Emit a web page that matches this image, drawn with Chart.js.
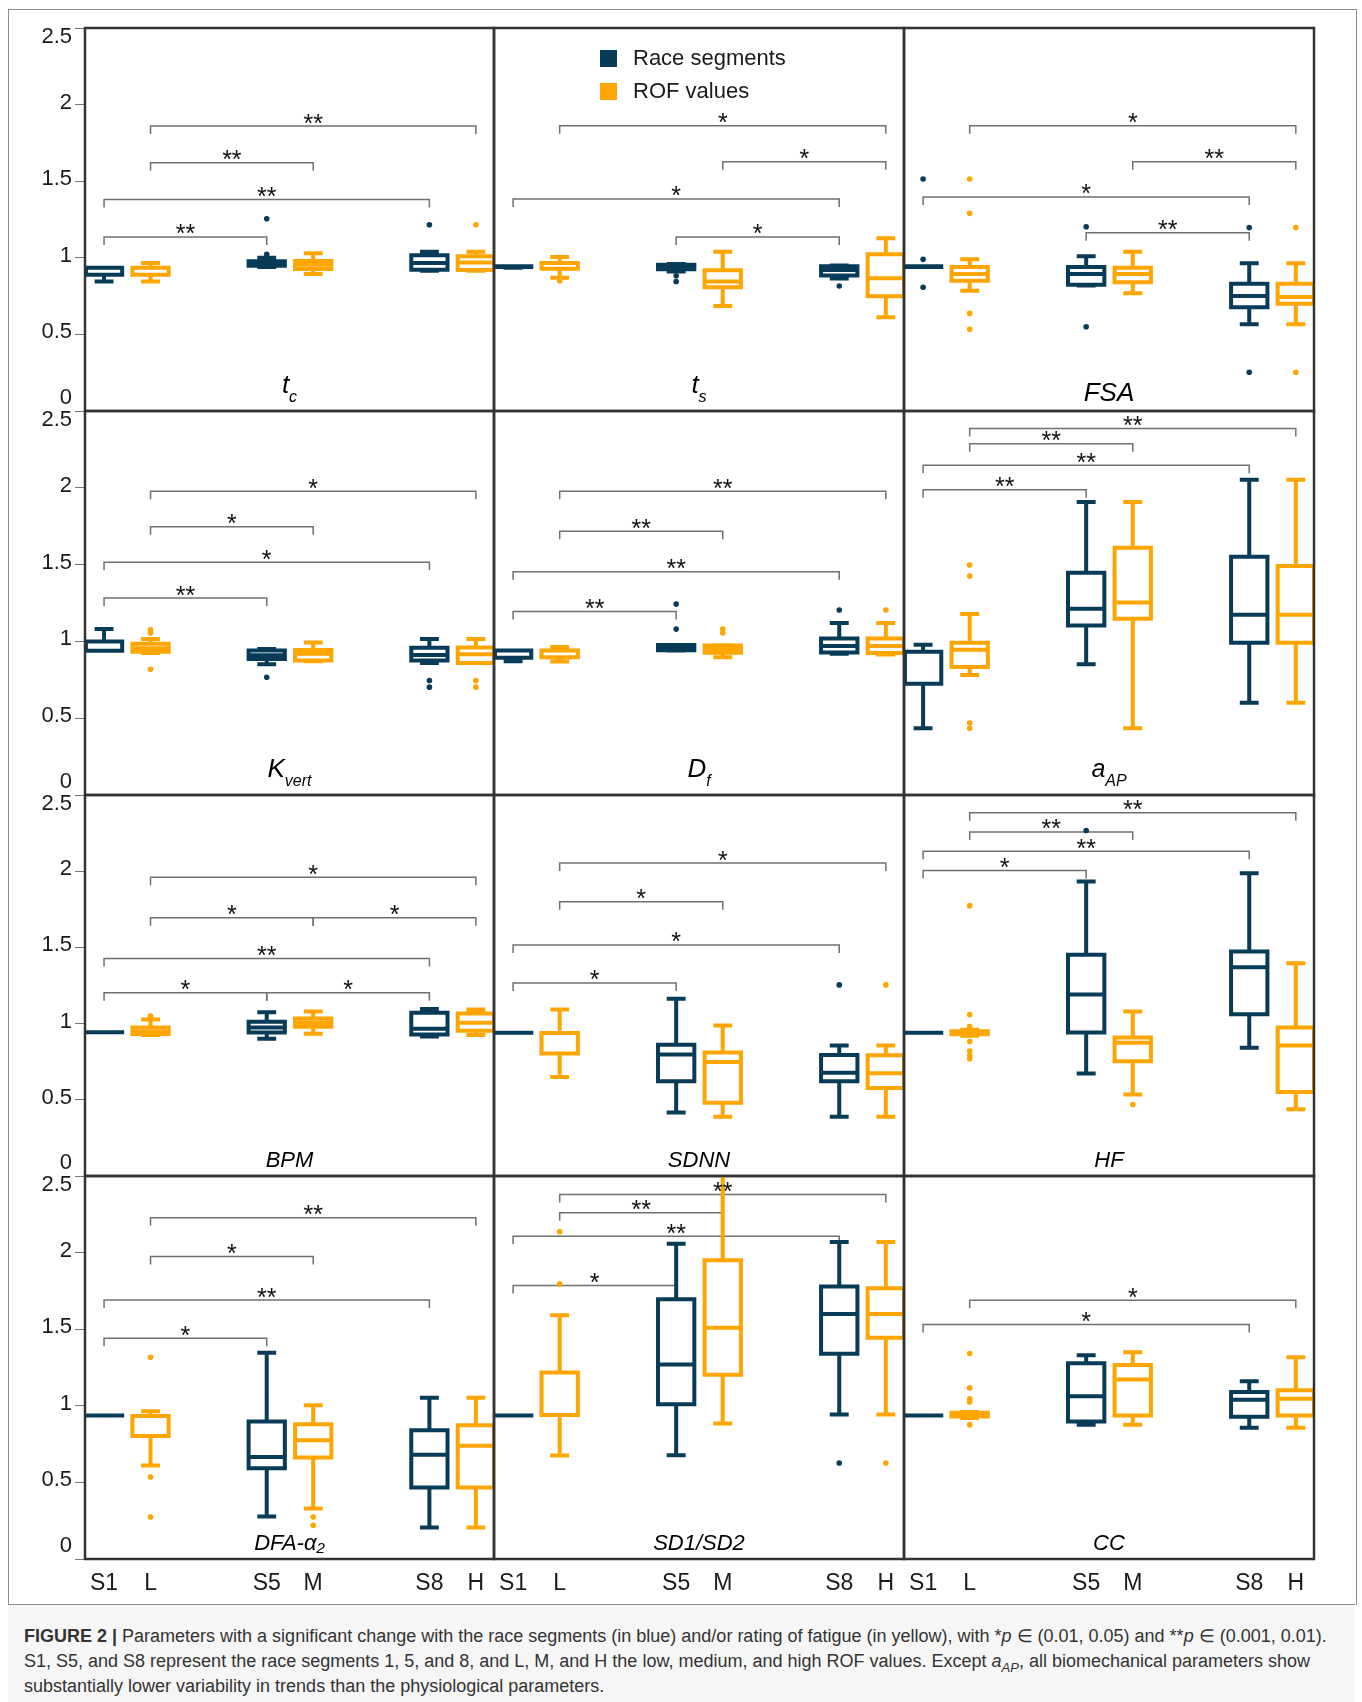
<!DOCTYPE html>
<html>
<head>
<meta charset="utf-8">
<script src="https://cdn.jsdelivr.net/npm/chart.js@4.4.0/dist/chart.umd.min.js"></script>
<style>
  body { margin: 0; background: #fff; font-family: 'Liberation Sans', Arial, sans-serif; }
  #page { position: relative; width: 1362px; height: 1702px; overflow: hidden; background: #fff; }
  #frame { position: absolute; left: 8px; top: 9px; width: 1347px; height: 1595px; border: 1px solid #8c8c8c; border-bottom: none; }
  #caption { position: absolute; left: 8px; top: 1604px; width: 1331px; height: 98px; background: #f6f6f6;
    border-top: 1px solid #8c8c8c; padding: 19px 0 0 16px; font-size: 18px; line-height: 25px; color: #333; white-space: nowrap; }
  #caption sub { font-size: 13px; line-height: 0; }
  canvas { position: absolute; }
</style>
</head>
<body>
<div id="page">
  <div id="frame"></div>
  <div id="caption"><b>FIGURE 2 |</b> Parameters with a significant change with the race segments (in blue) and/or rating of fatigue (in yellow), with *<i>p</i> ∈ (0.01, 0.05) and **<i>p</i> ∈ (0.001, 0.01).<br>S1, S5, and S8 represent the race segments 1, 5, and 8, and L, M, and H the low, medium, and high ROF values. Except <i>a<sub>AP</sub></i>, all biomechanical parameters show<br>substantially lower variability in trends than the physiological parameters.</div>
</div>
<script>
// categories along the x axis (race segments and ROF levels interleaved)
const catNames = ['S1', 'L', 'S5', 'M', 'S8', 'H'];
const catPos = [0, 1, 3.5, 4.5, 7, 8];
const raceCats = ['S1', 'S5', 'S8'];
const rofCats = ['L', 'M', 'H'];
const yTicks = [0, 0.5, 1, 1.5, 2, 2.5];

// box stats: [min, q1, median, q3, max] per category; outliers listed separately
// significance brackets: [from, to, bracket level, stars]
const tcRace = [[0.845, 0.89, 0.89, 0.935, 0.935], [0.94, 0.948, 0.96, 0.977, 1.0], [0.916, 0.922, 0.966, 1.016, 1.04]];
const tcRaceOut = [[], [1.023, 1.255], [1.216]];
const tcRof = [[0.845, 0.89, 0.89, 0.935, 0.966], [0.894, 0.927, 0.955, 0.979, 1.03], [0.915, 0.92, 0.97, 1.01, 1.04]];
const tcRofOut = [[], [], [1.216]];
const tcSig = [['L', 'H', 1.86, '**'], ['L', 'M', 1.62, '**'], ['S1', 'S8', 1.38, '**'], ['S1', 'S5', 1.136, '**']];

const tsRace = [[0.935, 0.94, 0.94, 0.945, 0.945], [0.91, 0.925, 0.935, 0.955, 0.96], [0.865, 0.885, 0.92, 0.945, 0.95]];
const tsRaceOut = [[], [0.883, 0.845], [0.816]];
const tsRof = [[0.87, 0.929, 0.929, 0.966, 1.005], [0.685, 0.807, 0.846, 0.918, 1.04], [0.612, 0.749, 0.866, 1.023, 1.127]];
const tsRofOut = [[0.85], [], []];
const tsSig = [['L', 'H', 1.862, '*'], ['M', 'H', 1.627, '*'], ['S1', 'S8', 1.384, '*'], ['S5', 'S8', 1.136, '*']];

const fsaRace = [[0.94, 0.94, 0.94, 0.945, 0.945], [0.82, 0.824, 0.894, 0.94, 1.01], [0.566, 0.677, 0.75, 0.831, 0.964]];
const fsaRaceOut = [[0.99, 0.807, 1.514], [1.203, 0.55], [1.197, 0.253]];
const fsaRof = [[0.785, 0.85, 0.894, 0.94, 0.99], [0.768, 0.84, 0.894, 0.935, 1.04], [0.566, 0.70, 0.744, 0.831, 0.964]];
const fsaRofOut = [[1.514, 1.29, 0.637, 0.533], [], [1.197, 0.253]];
const fsaSig = [['L', 'H', 1.862, '*'], ['M', 'H', 1.627, '**'], ['S1', 'S8', 1.397, '*'], ['S5', 'S8', 1.164, '**']];

const kvRace = [[0.939, 0.939, 0.939, 1.0, 1.08], [0.852, 0.885, 0.91, 0.941, 0.95], [0.86, 0.875, 0.912, 0.958, 1.015]];
const kvRaceOut = [[], [0.767], [0.745, 0.702]];
const kvRof = [[0.925, 0.932, 0.955, 0.984, 1.015], [0.87, 0.875, 0.92, 0.944, 0.993], [0.86, 0.86, 0.917, 0.96, 1.015]];
const kvRofOut = [[1.075, 1.055, 0.819], [], [0.745, 0.702]];
const kvSig = [['L', 'H', 1.977, '*'], ['L', 'M', 1.747, '*'], ['S1', 'S8', 1.515, '*'], ['S1', 'S5', 1.282, '**']];

const dfRace = [[0.87, 0.893, 0.893, 0.941, 0.941], [0.94, 0.943, 0.955, 0.976, 0.976], [0.92, 0.928, 0.97, 1.019, 1.119]];
const dfRaceOut = [[], [1.08, 1.243], [1.204]];
const dfRof = [[0.869, 0.897, 0.897, 0.941, 0.963], [0.897, 0.926, 0.95, 0.973, 0.975], [0.915, 0.925, 0.97, 1.019, 1.119]];
const dfRofOut = [[], [1.08, 1.054], [1.204]];
const dfSig = [['L', 'H', 1.977, '**'], ['L', 'M', 1.717, '**'], ['S1', 'S8', 1.454, '**'], ['S1', 'S5', 1.195, '**']];

const aapRace = [[0.435, 0.724, 0.932, 0.932, 0.978], [0.852, 1.104, 1.212, 1.447, 1.908], [0.6, 0.991, 1.173, 1.551, 2.053]];
const aapRaceOut = [[], [], []];
const aapRof = [[0.782, 0.834, 0.945, 0.991, 1.178], [0.435, 1.147, 1.254, 1.61, 1.908], [0.6, 0.991, 1.173, 1.491, 2.053]];
const aapRofOut = [[1.497, 1.426, 0.469, 0.435], [], []];
const aapSig = [['L', 'H', 2.386, '**'], ['L', 'M', 2.286, '**'], ['S1', 'S8', 2.147, '**'], ['S1', 'S5', 1.988, '**']];

const bpmRace = [[0.944, 0.944, 0.944, 0.944, 0.944], [0.901, 0.942, 0.975, 1.012, 1.075], [0.915, 0.929, 0.966, 1.072, 1.095]];
const bpmRaceOut = [[], [], []];
const bpmRof = [[0.925, 0.931, 0.947, 0.975, 1.027], [0.934, 0.98, 1.005, 1.034, 1.08], [0.925, 0.953, 1.006, 1.067, 1.092]];
const bpmRofOut = [[1.049], [], []];
const bpmSig = [['L', 'H', 1.961, '*'], ['L', 'M', 1.695, '*'], ['M', 'H', 1.695, '*'], ['S1', 'S8', 1.427, '**'], ['S1', 'S5', 1.202, '*'], ['S5', 'S8', 1.202, '*']];

const sdnnRace = [[0.94, 0.94, 0.94, 0.94, 0.94], [0.417, 0.622, 0.798, 0.862, 1.163], [0.388, 0.622, 0.678, 0.794, 0.857]];
const sdnnRaceOut = [[], [], [1.254]];
const sdnnRof = [[0.65, 0.803, 0.803, 0.938, 1.093], [0.388, 0.48, 0.748, 0.811, 0.988], [0.388, 0.578, 0.675, 0.792, 0.857]];
const sdnnRofOut = [[], [], [1.254]];
const sdnnSig = [['L', 'H', 2.053, '*'], ['L', 'M', 1.8, '*'], ['S1', 'S8', 1.516, '*'], ['S1', 'S5', 1.267, '*']];

const hfRace = [[0.94, 0.94, 0.94, 0.94, 0.94], [0.672, 0.942, 1.191, 1.451, 1.933], [0.842, 1.062, 1.37, 1.473, 1.987]];
const hfRaceOut = [[], [2.267], []];
const hfRof = [[0.92, 0.93, 0.94, 0.95, 0.96], [0.535, 0.753, 0.875, 0.908, 1.08], [0.438, 0.552, 0.857, 0.975, 1.396]];
const hfRofOut = [[1.774, 1.06, 0.98, 0.883, 0.82, 0.79, 0.77], [0.469], []];
const hfSig = [['L', 'H', 2.384, '**'], ['L', 'M', 2.258, '**'], ['S1', 'S8', 2.131, '**'], ['S1', 'S5', 2.005, '*']];

const dfaRace = [[0.936, 0.936, 0.936, 0.936, 0.936], [0.278, 0.592, 0.666, 0.897, 1.347], [0.206, 0.466, 0.681, 0.84, 1.052]];
const dfaRaceOut = [[], [], []];
const dfaRof = [[0.611, 0.803, 0.934, 0.934, 0.964], [0.329, 0.662, 0.775, 0.879, 1.003], [0.206, 0.466, 0.74, 0.873, 1.052]];
const dfaRofOut = [[1.317, 0.535, 0.274], [0.274, 0.22], []];
const dfaSig = [['L', 'H', 2.227, '**'], ['L', 'M', 1.975, '*'], ['S1', 'S8', 1.69, '**'], ['S1', 'S5', 1.441, '*']];

const sdRace = [[0.936, 0.936, 0.936, 0.936, 0.936], [0.677, 1.01, 1.269, 1.696, 2.057], [0.943, 1.339, 1.6, 1.779, 2.07]];
const sdRaceOut = [[], [], [0.627]];
const sdRof = [[0.675, 0.94, 0.94, 1.217, 1.591], [0.884, 1.202, 1.509, 1.95, 2.62], [0.943, 1.445, 1.6, 1.768, 2.07]];
const sdRofOut = [[2.136, 1.794], [], [0.627]];
const sdSig = [['L', 'H', 2.38, '**'], ['L', 'M', 2.26, '**'], ['S1', 'S8', 2.107, '**'], ['S1', 'S5', 1.785, '*']];

const ccRace = [[0.936, 0.936, 0.936, 0.936, 0.936], [0.877, 0.897, 1.062, 1.278, 1.33], [0.856, 0.929, 1.04, 1.09, 1.16]];
const ccRaceOut = [[], [], []];
const ccRof = [[0.92, 0.93, 0.94, 0.955, 0.96], [0.877, 0.936, 1.171, 1.267, 1.35], [0.856, 0.936, 1.046, 1.101, 1.317]];
const ccRofOut = [[1.341, 1.117, 1.045, 1.025, 0.877], [], []];
const ccSig = [['L', 'H', 1.689, '*'], ['S1', 'S8', 1.53, '*']];

const panels = [
  { title: 't', sub: 'c', race: tcRace, raceOut: tcRaceOut, rof: tcRof, rofOut: tcRofOut, sig: tcSig },
  { title: 't', sub: 's', race: tsRace, raceOut: tsRaceOut, rof: tsRof, rofOut: tsRofOut, sig: tsSig },
  { title: 'FSA', sub: '', race: fsaRace, raceOut: fsaRaceOut, rof: fsaRof, rofOut: fsaRofOut, sig: fsaSig },
  { title: 'K', sub: 'vert', race: kvRace, raceOut: kvRaceOut, rof: kvRof, rofOut: kvRofOut, sig: kvSig },
  { title: 'D', sub: 'f', race: dfRace, raceOut: dfRaceOut, rof: dfRof, rofOut: dfRofOut, sig: dfSig },
  { title: 'a', sub: 'AP', race: aapRace, raceOut: aapRaceOut, rof: aapRof, rofOut: aapRofOut, sig: aapSig },
  { title: 'BPM', sub: '', race: bpmRace, raceOut: bpmRaceOut, rof: bpmRof, rofOut: bpmRofOut, sig: bpmSig },
  { title: 'SDNN', sub: '', race: sdnnRace, raceOut: sdnnRaceOut, rof: sdnnRof, rofOut: sdnnRofOut, sig: sdnnSig },
  { title: 'HF', sub: '', race: hfRace, raceOut: hfRaceOut, rof: hfRof, rofOut: hfRofOut, sig: hfSig },
  { title: 'DFA-α₂', sub: '', race: dfaRace, raceOut: dfaRaceOut, rof: dfaRof, rofOut: dfaRofOut, sig: dfaSig },
  { title: 'SD1/SD2', sub: '', race: sdRace, raceOut: sdRaceOut, rof: sdRof, rofOut: sdRofOut, sig: sdSig },
  { title: 'CC', sub: '', race: ccRace, raceOut: ccRaceOut, rof: ccRof, rofOut: ccRofOut, sig: ccSig },
];

const RACE_COLOR = '#083b58';
const ROF_COLOR = '#ffa500';
const FONT = "'Liberation Sans', Arial, sans-serif";
const BOX_W = 0.39, CAP_W = 0.16;
const colLeft = [85, 494, 904, 1314];
const rowTop = [28, 411, 795, 1176, 1559];
const PAD = 4, Y_AXIS_W = 75, X_AXIS_H = 40;

Chart.defaults.font.family = FONT;
Chart.defaults.color = '#1a1a1a';

const posOf = (cat) => catPos[catNames.indexOf(cat)];

// one line path per series: box outline, median, whiskers and caps, broken by nulls
function boxLines(cats, stats) {
  const pts = [];
  const gap = () => ({ x: null, y: null });
  stats.forEach((s, i) => {
    const x = posOf(cats[i]);
    const [lo, q1, med, q3, hi] = s;
    pts.push({ x: x - BOX_W, y: q1 }, { x: x + BOX_W, y: q1 }, { x: x + BOX_W, y: q3 }, { x: x - BOX_W, y: q3 }, { x: x - BOX_W, y: q1 }, gap());
    pts.push({ x: x - BOX_W, y: med }, { x: x + BOX_W, y: med }, gap());
    pts.push({ x: x, y: q3 }, { x: x, y: hi }, gap(), { x: x - CAP_W, y: hi }, { x: x + CAP_W, y: hi }, gap());
    pts.push({ x: x, y: q1 }, { x: x, y: lo }, gap(), { x: x - CAP_W, y: lo }, { x: x + CAP_W, y: lo }, gap());
  });
  return pts;
}

function outlierPts(cats, outs) {
  const pts = [];
  outs.forEach((list, i) => list.forEach(v => pts.push({ x: posOf(cats[i]), y: v })));
  return pts;
}

function lineSet(label, data, color) {
  return { type: 'line', label, data, borderColor: color, borderWidth: 4, borderCapStyle: 'square',
    borderJoinStyle: 'miter', pointRadius: 0, fill: false, tension: 0, spanGaps: false, clip: 0 };
}
function dotSet(label, data, color) {
  return { type: 'scatter', label, data, backgroundColor: color, borderWidth: 0, pointRadius: 2.8, clip: 0 };
}

function decoPlugin(p, idx, row) {
  return {
    id: 'deco' + idx,
    beforeDatasetsDraw(chart) {
      const { ctx, scales: { x, y } } = chart;
      ctx.save();
      ctx.strokeStyle = '#707070';
      ctx.lineWidth = 1.5;
      p.sig.forEach(([c1, c2, lvl]) => {
        const x1 = x.getPixelForValue(posOf(c1)), x2 = x.getPixelForValue(posOf(c2));
        const yy = y.getPixelForValue(lvl);
        ctx.beginPath();
        ctx.moveTo(x1, yy + 8); ctx.lineTo(x1, yy); ctx.lineTo(x2, yy); ctx.lineTo(x2, yy + 8);
        ctx.stroke();
      });
      ctx.restore();
    },
    afterDatasetsDraw(chart) {
      const { ctx, chartArea: a, scales: { x, y } } = chart;
      ctx.save();
      // stars
      ctx.fillStyle = '#111';
      ctx.textAlign = 'center';
      ctx.textBaseline = 'alphabetic';
      ctx.font = '25px ' + FONT;
      p.sig.forEach(([c1, c2, lvl, stars]) => {
        const xm = (x.getPixelForValue(posOf(c1)) + x.getPixelForValue(posOf(c2))) / 2;
        ctx.fillText(stars, xm, y.getPixelForValue(lvl) + 5.5);
      });
      // panel title
      const cx = (a.left + a.right) / 2;
      ctx.textAlign = 'left';
      ctx.fillStyle = '#000';
      if (row < 2) {
        const mainSize = p.title === 'a' ? 25 : 26;
        ctx.font = 'italic ' + mainSize + 'px ' + FONT;
        const w1 = ctx.measureText(p.title).width;
        ctx.font = 'italic 16px ' + FONT;
        const w2 = p.sub ? ctx.measureText(p.sub).width : 0;
        const x0 = cx - (w1 + w2) / 2;
        ctx.font = 'italic ' + mainSize + 'px ' + FONT;
        ctx.fillText(p.title, x0, a.bottom - (p.sub ? 18 : 10));
        if (p.sub) {
          ctx.font = 'italic 16px ' + FONT;
          ctx.fillText(p.sub, x0 + w1, a.bottom - 9);
        }
      } else {
        ctx.font = 'italic 22px ' + FONT;
        ctx.textAlign = 'center';
        ctx.fillText(p.title, cx, a.bottom - 9);
      }
      // legend in the second panel
      if (idx === 1) {
        [['Race segments', RACE_COLOR], ['ROF values', ROF_COLOR]].forEach(([txt, col], k) => {
          ctx.fillStyle = col;
          ctx.fillRect(a.left + 106, a.top + 22 + k * 33, 17, 17);
          ctx.fillStyle = '#1a1a1a';
          ctx.font = '22px ' + FONT;
          ctx.textAlign = 'left';
          ctx.textBaseline = 'middle';
          ctx.fillText(txt, a.left + 139, a.top + 31 + k * 33);
        });
      }
      // panel frame
      ctx.strokeStyle = '#333';
      ctx.lineWidth = 2.5;
      ctx.strokeRect(a.left, a.top, a.right - a.left, a.bottom - a.top);
      ctx.restore();
    }
  };
}

const page = document.getElementById('page');
panels.forEach((p, i) => {
  const row = Math.floor(i / 3), col = i % 3;
  const yw = col === 0 ? Y_AXIS_W : 0;
  const xh = row === 3 ? X_AXIS_H : 0;
  const cv = document.createElement('canvas');
  cv.width = colLeft[col + 1] - colLeft[col] + 2 * PAD + yw;
  cv.height = rowTop[row + 1] - rowTop[row] + 2 * PAD + xh;
  cv.style.left = (colLeft[col] - PAD - yw) + 'px';
  cv.style.top = (rowTop[row] - PAD) + 'px';
  page.appendChild(cv);

  new Chart(cv, {
    type: 'line',
    data: {
      datasets: [
        lineSet('Race segments', boxLines(raceCats, p.race), RACE_COLOR),
        dotSet('Race outliers', outlierPts(raceCats, p.raceOut), RACE_COLOR),
        lineSet('ROF values', boxLines(rofCats, p.rof), ROF_COLOR),
        dotSet('ROF outliers', outlierPts(rofCats, p.rofOut), ROF_COLOR),
      ]
    },
    options: {
      responsive: false,
      animation: false,
      events: [],
      layout: { padding: PAD, autoPadding: false },
      plugins: { legend: { display: false }, tooltip: { enabled: false } },
      scales: {
        x: {
          type: 'linear', min: -0.41, max: 8.39,
          display: row === 3,
          afterBuildTicks: (s) => { s.ticks = catPos.map(v => ({ value: v })); },
          afterFit: (s) => { s.height = xh; s.paddingLeft = 0; s.paddingRight = 0; },
          grid: { display: false },
          border: { display: false },
          ticks: { autoSkip: false, maxRotation: 0, padding: 3, color: '#1a1a1a', font: { size: 23 },
            callback: (v) => catNames[catPos.indexOf(v)] }
        },
        y: {
          type: 'linear', min: 0, max: 2.5,
          display: col === 0,
          afterBuildTicks: (s) => { s.ticks = yTicks.map(v => ({ value: v })); },
          afterFit: (s) => { s.width = yw; s.paddingTop = 0; s.paddingBottom = 0; },
          grid: { drawOnChartArea: false, tickLength: 10, color: '#777', lineWidth: 1 },
          border: { display: false },
          ticks: { padding: 3, labelOffset: -2, color: '#1a1a1a', font: { size: 22, lineHeight: 1 },
            callback: (v) => v === 2.5 ? ['', '2.5'] : (v === 0 ? ['0', ''] : String(v)) }
        }
      }
    },
    plugins: [decoPlugin(p, i, row)]
  });
});
</script>
</body>
</html>
